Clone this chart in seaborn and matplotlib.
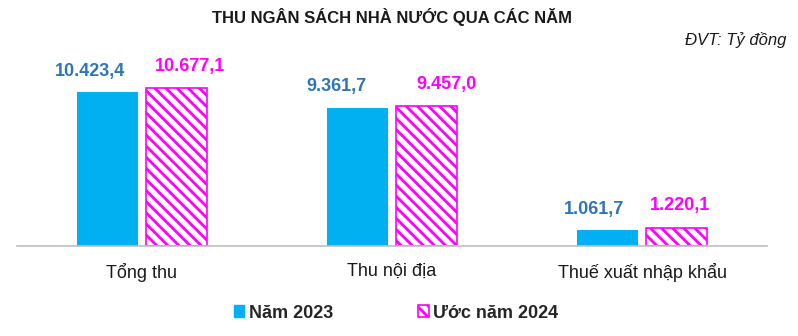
import matplotlib
matplotlib.use("Agg")
import matplotlib.pyplot as plt
import seaborn as sns
import pandas as pd
from matplotlib.patches import Patch

categories = ["Tổng thu", "Thu nội địa", "Thuế xuất nhập khẩu"]
series_names = ["Năm 2023", "Ước năm 2024"]
values_2023 = [10423.4, 9361.7, 1061.7]
values_2024 = [10677.1, 9457.0, 1220.1]
labels_2023 = ["10.423,4", "9.361,7", "1.061,7"]
labels_2024 = ["10.677,1", "9.457,0", "1.220,1"]

BLUE = "#00B0F0"
MAGENTA = "#FF00FF"
LABEL_BLUE = "#2E75B6"

df = pd.DataFrame({
    "cat": categories * 2,
    "series": [series_names[0]] * 3 + [series_names[1]] * 3,
    "val": values_2023 + values_2024,
})

sns.set_theme(style="white")
plt.rcParams["font.family"] = ["Liberation Sans", "DejaVu Sans"]
plt.rcParams["hatch.linewidth"] = 2.0

W, H = 798, 336
fig = plt.figure(figsize=(W / 100, H / 100), dpi=100)
bottom_px = 246
top_px = 66
left_px, right_px = 17, 767
ax = fig.add_axes([left_px / W, (H - bottom_px) / H, (right_px - left_px) / W, (bottom_px - top_px) / H])

sns.barplot(data=df, x="cat", y="val", hue="series", order=categories,
            hue_order=series_names, palette=[BLUE, MAGENTA], width=0.55, gap=0.12,
            ax=ax, legend=False, saturation=1, errorbar=None)

n = len(categories)
for i, p in enumerate(ax.patches[:2 * n]):
    p.set_linewidth(0)
    if i >= n:
        p.set_facecolor("white")
        p.set_edgecolor(MAGENTA)
        p.set_hatch("\\\\\\")
        p.set_linewidth(1.2)

# horizontal offsets (px) of the data labels, as in the original layout
dx_2023 = [-18, -21, -14]
dx_2024 = [14, 20, 4]
t1 = ax.bar_label(ax.containers[0], labels=labels_2023, padding=9, color=LABEL_BLUE,
                  fontsize=13, fontweight="bold")
t2 = ax.bar_label(ax.containers[1], labels=labels_2024, padding=9, color=MAGENTA,
                  fontsize=13, fontweight="bold")
for txt, dx in zip(t1, dx_2023):
    txt.xyann = (dx * 0.72, 9)
for txt, dx in zip(t2, dx_2024):
    txt.xyann = (dx * 0.72, 10)

ax.set_ylim(0, 12200)
ax.set_xlim(-0.5, 2.5)
ax.set_yticks([])
ax.set_xlabel("")
ax.set_ylabel("")
for s in ["top", "right", "left"]:
    ax.spines[s].set_visible(False)
ax.spines["bottom"].set_color("#BFBFBF")
ax.spines["bottom"].set_linewidth(1.2)
ax.tick_params(axis="x", length=0, pad=12, labelsize=13, labelcolor="#1a1a1a")

fig.text(392 / W, 1 - 17 / H, "THU NGÂN SÁCH NHÀ NƯỚC QUA CÁC NĂM", ha="center", va="center",
         fontsize=12, fontweight="bold", color="#1a1a1a")
fig.text(786 / W, 1 - 40 / H, "ĐVT: Tỷ đồng", ha="right", va="center",
         fontsize=12, style="italic", color="#1a1a1a")

handles = [Patch(facecolor=BLUE, edgecolor=BLUE),
           Patch(facecolor="white", edgecolor=MAGENTA, hatch="\\\\\\", linewidth=1.2)]
fig.legend(handles, series_names, loc="center", bbox_to_anchor=(396 / W, 1 - 313 / H),
           ncol=2, frameon=False, handlelength=0.6, handleheight=0.6, handletextpad=0.25,
           columnspacing=4.7, prop={"weight": "bold", "size": 13})

fig.savefig("out.png", dpi=100, facecolor="white")
